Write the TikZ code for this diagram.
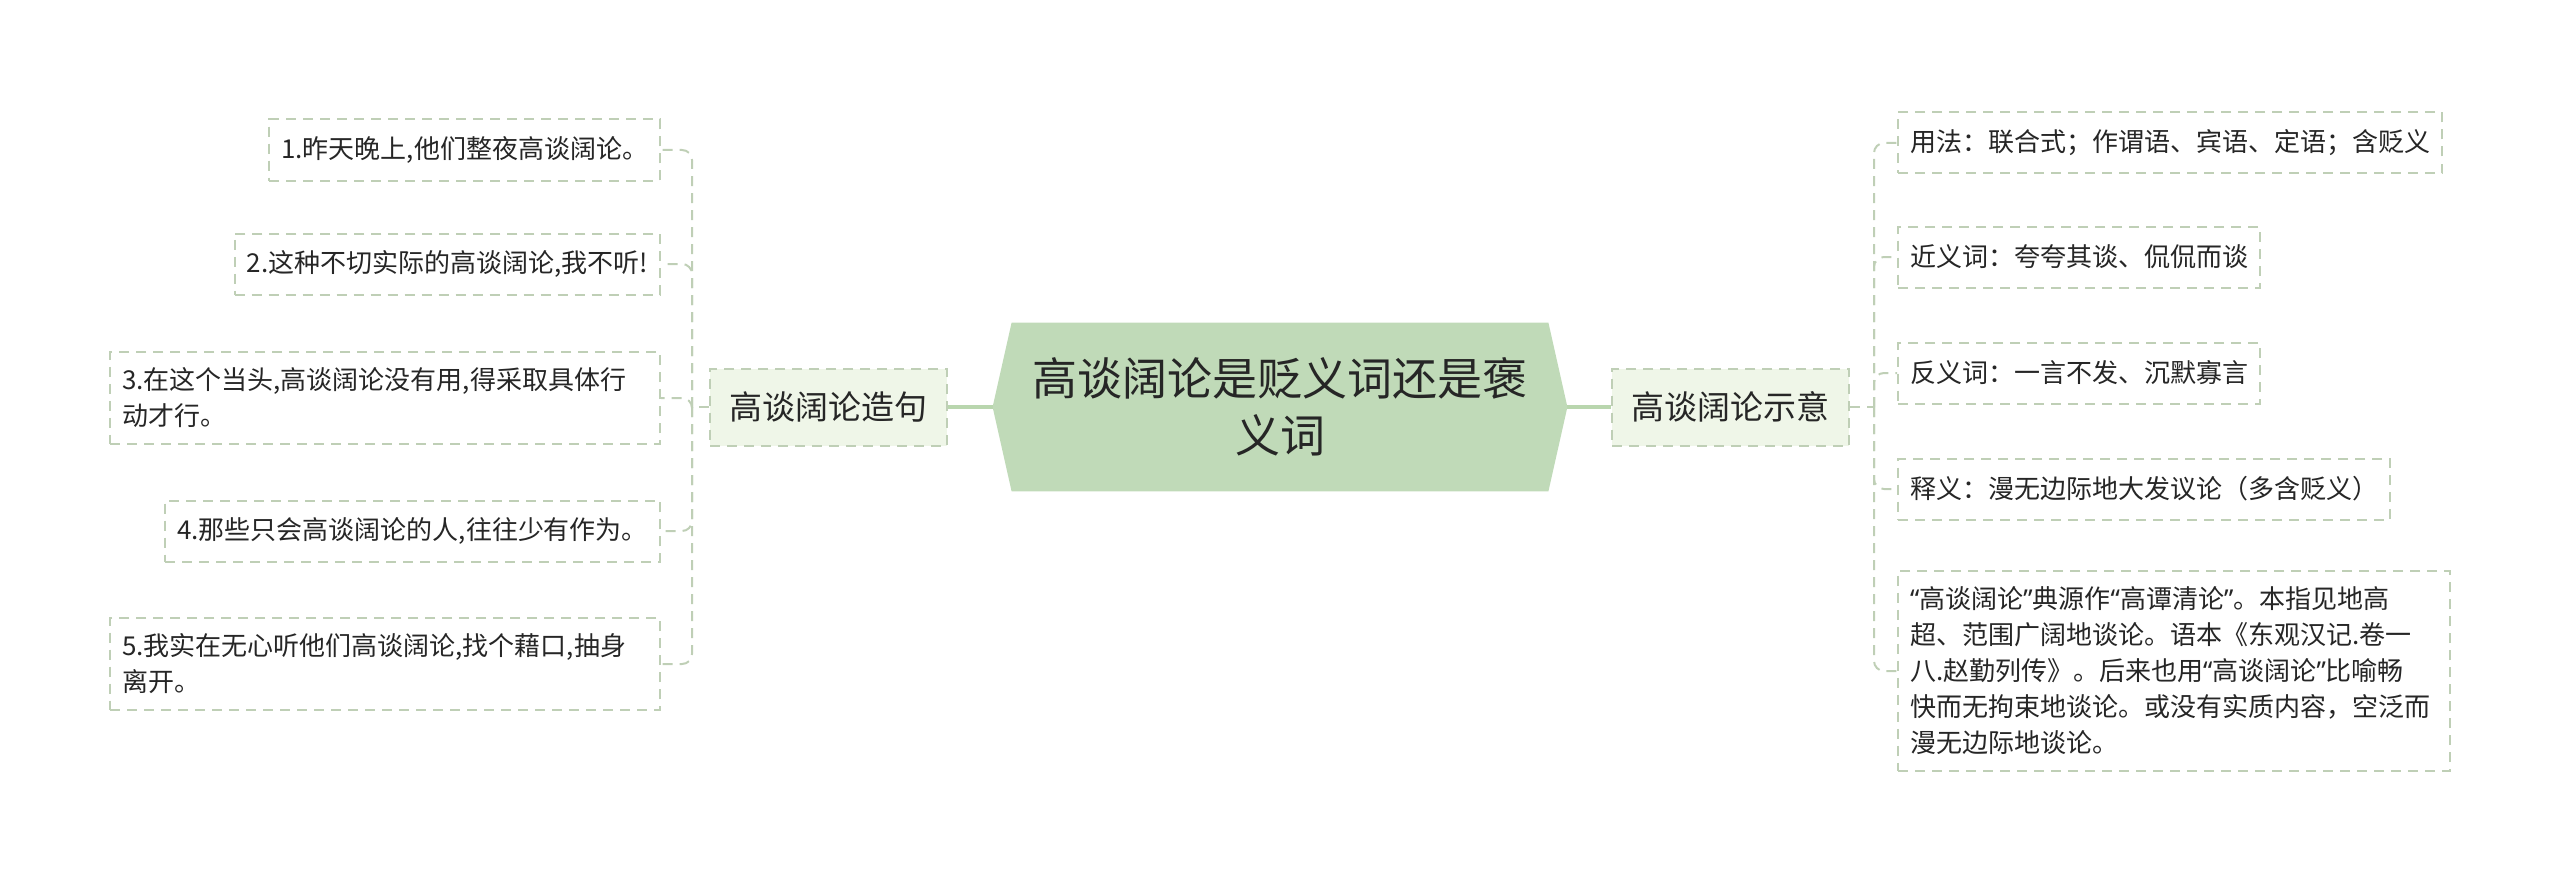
\documentclass[tikz,border=0pt]{standalone}
\usepackage{fontspec}
\newfontfamily\cjk{Noto Sans CJK SC}
\newfontfamily\quotefont{Noto Sans}
\newcommand\openq{{\quotefont “}}
\newcommand\closeq{{\quotefont ”}}
\usetikzlibrary{backgrounds}
\definecolor{rootgreen}{HTML}{C0DAB8}
\definecolor{branchgreen}{HTML}{EFF6E8}
\definecolor{dashgreen}{HTML}{BFCFB6}
\definecolor{trunkgreen}{HTML}{B9D6AE}
\definecolor{inkgrey}{HTML}{262626}

\begin{document}
\begin{tikzpicture}[x=0.5pt,y=-0.5pt,
	every node/.style={font=\cjk,text=inkgrey},
	root/.style={minimum width=287pt,minimum height=84pt,align=center,text=black!85,font=\cjk\fontsize{22.5pt}{28.5pt}\selectfont},
	branch/.style={draw=dashgreen,fill=branchgreen,dash pattern=on 5pt off 3.5pt,line width=1pt,minimum width=118.5pt,minimum height=38.5pt,font=\cjk\fontsize{16.5pt}{20pt}\selectfont},
	leaf/.style={draw=dashgreen,fill=white,dash pattern=on 5pt off 3.5pt,line width=1pt,minimum height=30.5pt,inner xsep=6pt,inner ysep=8pt,align=left,font=\cjk\fontsize{13pt}{18pt}\selectfont},
	link/.style={draw=dashgreen,dash pattern=on 5pt off 3.5pt,line width=1pt,rounded corners=5pt},
	trunk/.style={draw=trunkgreen,line width=2pt}]
	 \useasboundingbox (0,0) rectangle (2560,883);

	 \node[root] (root) at (1280,407) {高谈阔论是贬义词还是褒\\义词};
	 \begin{scope}[on background layer]
	 \fill[rootgreen] (root.west) -- ([xshift=9.5pt]root.north west) -- ([xshift=-9.5pt]root.north east)
	   -- (root.east) -- ([xshift=-9.5pt]root.south east) -- ([xshift=9.5pt]root.south west) -- cycle;
	 \end{scope}

	 \node[branch] (zaoju) at (828.5,407) {高谈阔论造句};
	 \node[branch] (shiyi) at (1730.5,407) {高谈阔论示意};

	 \node[leaf,anchor=east] (s1) at (661,150) {1.昨天晚上,他们整夜高谈阔论。};
	 \node[leaf,anchor=east] (s2) at (661,264) {2.这种不切实际的高谈阔论,我不听!};
	 \node[leaf,anchor=east,text width=263pt] (s3) at (661,398) {3.在这个当头,高谈阔论没有用,得采取具体行\\动才行。};
	 \node[leaf,anchor=east] (s4) at (661,531) {4.那些只会高谈阔论的人,往往少有作为。};
	 \node[leaf,anchor=east,text width=263pt] (s5) at (661,664) {5.我实在无心听他们高谈阔论,找个藉口,抽身\\离开。};

	 \node[leaf,anchor=west] (m1) at (1897,143) {用法：联合式；作谓语、宾语、定语；含贬义};
	 \node[leaf,anchor=west] (m2) at (1897,257) {近义词：夸夸其谈、侃侃而谈};
	 \node[leaf,anchor=west] (m3) at (1897,373) {反义词：一言不发、沉默寡言};
	 \node[leaf,anchor=west] (m4) at (1897,489) {释义：漫无边际地大发议论（多含贬义）};
	 \node[leaf,anchor=west,text width=264pt] (m5) at (1897,671) {\openq 高谈阔论\closeq 典源作\openq 高谭清论\closeq 。本指见地高\\超、范围广阔地谈论。语本《东观汉记.卷一\\八.赵勤列传》。后来也用\openq 高谈阔论\closeq 比喻畅\\快而无拘束地谈论。或没有实质内容，空泛而\\漫无边际地谈论。};

	 \coordinate (lbus) at (692,407);
	 \coordinate (rbus) at (1874,407);

	 \path[trunk]
	 (root.west) edge (zaoju.east)
	 (root.east) edge (shiyi.west);

	 \draw[link] (zaoju.west) -- (lbus);
	 \draw[link] (shiyi.east) -- (rbus);
	 \foreach \n in {s1,s2,s3,s4,s5}
	   \draw[link] (lbus) |- (\n.east);
	 \foreach \n in {m1,m2,m3,m4,m5}
	   \draw[link] (rbus) |- (\n.west);
\end{tikzpicture}
\end{document}
